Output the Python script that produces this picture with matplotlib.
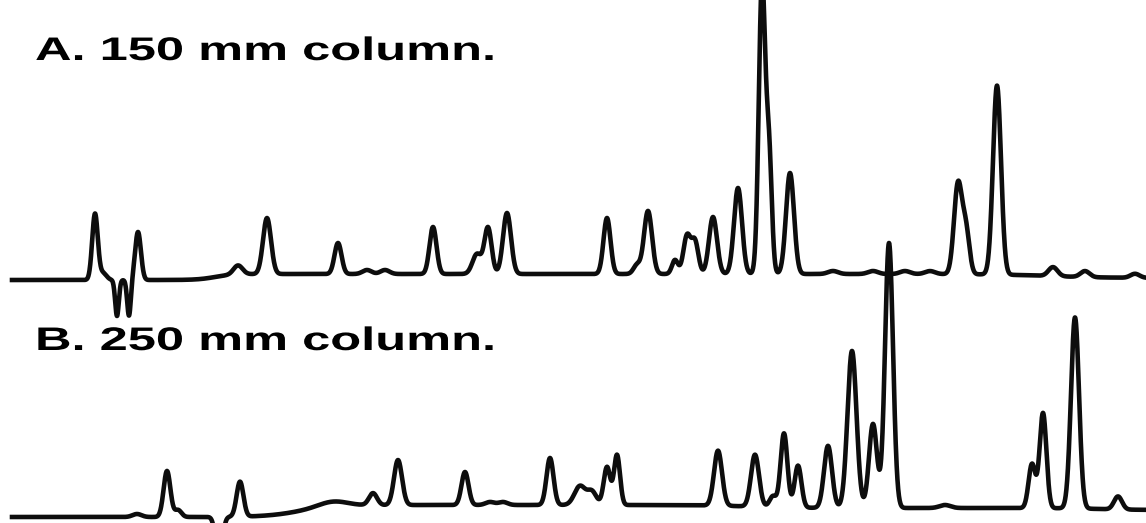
import numpy as np
import matplotlib
matplotlib.use("Agg")
import matplotlib.pyplot as plt
from matplotlib.patheffects import AbstractPathEffect
from matplotlib.transforms import Affine2D

# ---------------- data ----------------
# Trace A: 150 mm column  -- retention position, peak height, peak width (sigma)
A_rt     = [95, 103, 117, 129, 138, 238, 267, 338, 367, 385, 433, 477, 488, 507,
            607, 637, 648, 675, 687, 695, 713, 738, 762, 769, 790,
            833, 873, 905, 930, 958, 966, 997, 1053, 1085, 1135]
A_height = [66, 7, -36, -36, 48, 9, 56, 31, 4, 4, 47, 20, 46, 61,
            56, 9, 63, 14, 38, 32, 57, 86, 290, 118, 101,
            3, 3, 3, 3, 90, 42, 189, 9, 6, 4]
A_sigma  = [2.8, 3.5, 1.8, 1.8, 2.9, 4.5, 4.0, 3.5, 4.5, 4.5, 3.5, 4.5, 3.6, 4.0,
            3.5, 3.5, 4.0, 3.0, 3.6, 3.4, 4.0, 4.0, 3.2, 2.8, 4.0,
            5, 5, 5, 5, 4.0, 3.5, 4.0, 4.5, 4.5, 4.5]
# baseline drift of trace A: step centre, step width, level change
A_drift_at    = [215, 1050]
A_drift_width = [18, 60]
A_drift_level = [6, -4]
A_base = 243

# Trace B: 250 mm column
B_rt     = [137, 167, 178, 219, 240, 333, 373, 398, 465, 490, 503, 550,
            580, 592, 607, 617, 718, 755, 773, 784, 798, 828, 852, 873, 889,
            945, 1032, 1043, 1075, 1118]
B_height = [3, 46, 7, -45, 35, 5, 12, 45, 33, 3, 3, 47,
            19, 13, 38, 50, 55, 52, 11, 74, 42, 62, 157, 84, 265,
            3, 44, 95, 191, 13]
B_sigma  = [4.5, 3.4, 3.4, 3.2, 3.4, 14, 4.0, 4.0, 3.5, 4.5, 4.5, 3.5,
            5.5, 4.5, 3.3, 3.0, 4.0, 4.0, 3.4, 3.4, 3.4, 4.0, 4.5, 4.0, 4.0,
            5.5, 3.4, 3.4, 4.0, 4.0]
B_drift_at    = [300, 750, 1100]
B_drift_width = [35, 50, 40]
B_drift_level = [12, -3, -2]
B_base = 6

labels = ["A. 150 mm column.", "B. 250 mm column."]


# ---------------- helpers ----------------
def trace(t, base, rt, h, s, d_at, d_w, d_lv):
    y = np.full_like(t, float(base))
    for c, w, lv in zip(d_at, d_w, d_lv):
        y += lv * 0.5 * (1 + np.tanh((t - c) / w))
    for c, hh, ss in zip(rt, h, s):
        y += hh * np.exp(-0.5 * ((t - c) / ss) ** 2)
    return y


class StretchX(AbstractPathEffect):
    """Draw text horizontally stretched (the reference text is wide)."""
    def __init__(self, sx):
        super().__init__()
        self.sx = sx

    def draw_path(self, renderer, gc, tpath, affine, rgbFace=None):
        renderer.draw_path(gc, tpath, Affine2D().scale(self.sx, 1.0) + affine, rgbFace)


# ---------------- figure ----------------
W, H = 1146, 523
fig = plt.figure(figsize=(W / 100, H / 100), dpi=100)
ax = fig.add_axes([0, 0, 1, 1])
ax.set_xlim(0, W)
ax.set_ylim(0, H)
ax.axis("off")

t = np.linspace(12, W, 6000)
yA = trace(t, A_base, A_rt, A_height, A_sigma, A_drift_at, A_drift_width, A_drift_level)
yB = trace(t, B_base, B_rt, B_height, B_sigma, B_drift_at, B_drift_width, B_drift_level)

ax.plot(t, yA, color="#0d0d0d", lw=3.3, solid_joinstyle="round", zorder=2)
ax.plot(t, yB, color="#0d0d0d", lw=3.3, solid_joinstyle="round", zorder=3)

for lab, ytxt in zip(labels, [H - 60, H - 350]):
    ax.text(35, ytxt, lab, ha="left", va="baseline", fontsize=23.5,
            family="Liberation Sans", fontweight="bold", color="black",
            path_effects=[StretchX(1.55)], zorder=4)

fig.savefig("out.png", dpi=100)
